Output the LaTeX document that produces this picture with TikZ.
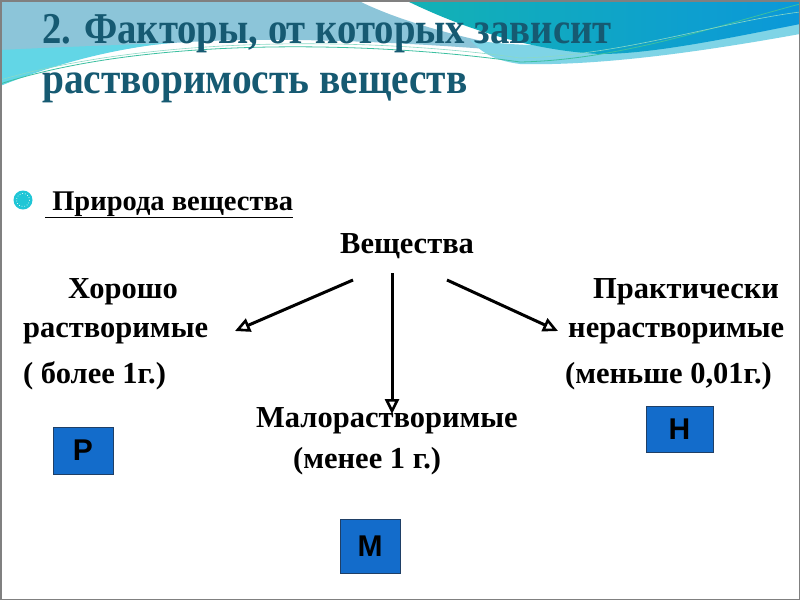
\documentclass[tikz,border=0pt]{standalone}
\usepackage{fontspec}
\setmainfont{Liberation Serif}
\newfontfamily\boxfont{Liberation Sans}
\usetikzlibrary{arrows.meta}
\definecolor{titlecol}{HTML}{165A72}
\definecolor{lightblueA}{HTML}{8CC5D9}
\definecolor{lightcyanA}{HTML}{62D6E6}
\definecolor{tealA}{HTML}{13B2B4}
\definecolor{blueA}{HTML}{0B98D9}
\definecolor{bandcol}{HTML}{7FD4E6}
\definecolor{greenline}{HTML}{3CC0A0}
\definecolor{boxfill}{HTML}{136CCB}
\definecolor{boxedge}{HTML}{1F3F66}
\definecolor{bulletcol}{HTML}{1FC6D6}
\tikzset{
  titletext/.style={anchor=base west, inner sep=0pt, text=titlecol, font=\fontsize{44}{44}\selectfont\bfseries},
  bodytext/.style={anchor=base west, inner sep=0pt, font=\fontsize{30.5}{30.5}\selectfont\bfseries},
  letterbox/.style={draw=boxedge, line width=1pt, fill=boxfill, inner sep=0pt, font=\boxfont\fontsize{30}{30}\selectfont\bfseries},
  conn/.style={line width=3pt, -{Triangle[open,length=15pt,width=14pt,line width=2.6pt]}},
}
\begin{document}
\begin{tikzpicture}[x=1pt,y=-1pt]
\useasboundingbox (0,0) rectangle (800,600);
\fill[white] (0,0) rectangle (800,600);
% left light-blue wave
\fill[lightblueA]
  (0,0) -- (357,0) .. controls (400,22) and (480,45) .. (570,56)
  .. controls (420,42) and (260,34) .. (150,45)
  .. controls (80,55) and (30,72) .. (0,86) -- cycle;
\fill[lightcyanA]
  (0,50) .. controls (40,48) and (90,46) .. (170,43)
  .. controls (100,50) and (40,70) .. (0,86) -- cycle;
% light cyan band
\fill[bandcol] (470,40) .. controls (560,52) and (680,45) .. (800,22) -- (800,34)
  .. controls (700,52) and (600,66) .. (520,64) .. controls (490,60) and (480,50) .. (470,40) -- cycle;
% teal wave
\shade[left color=tealA, right color=blueA]
  (405,0) -- (800,0) -- (800,24) .. controls (720,40) and (650,54) .. (600,54)
  .. controls (520,50) and (450,22) .. (405,0) -- cycle;
% thin green lines
\draw[greenline, line width=0.8pt] (0,84) .. controls (150,35) and (380,42) .. (520,62) .. controls (620,60) and (720,25) .. (800,4);
\draw[greenline!60!white, line width=0.6pt] (0,80) .. controls (160,34) and (380,38) .. (520,58) .. controls (620,56) and (720,22) .. (800,12);
% frame
\draw[gray, line width=1.5pt] (0.75,0.75) rectangle (799.25,599.25);
% title
\node[titletext, xscale=0.88] (t1) at (42,43) {2. Факторы, от которых зависит};
\node[titletext, xscale=0.895] (t2) at (42,93) {растворимость веществ};
% bullet
\fill[bulletcol] (23,200) circle (9.5);
\draw[white, line width=0.7pt, dotted] (23,200) circle (6.5);
\node[bodytext, font=\fontsize{28.5}{28.5}\selectfont\bfseries] (pr) at (45,210) {\underline{ Природа вещества}};
% diagram texts
\node[bodytext] (v) at (340,253) {Вещества};
\node[bodytext] (h1) at (68,298) {Хорошо};
\node[bodytext] (h2) at (23,337) {растворимые};
\node[bodytext] (h3) at (23,383) {( более 1г.)};
\node[bodytext] (p1) at (593,298) {Практически};
\node[bodytext] (p2) at (568,337) {нерастворимые};
\node[bodytext] (p3) at (565,383) {(меньше 0,01г.)};
\node[bodytext] (m1) at (256,427) {Малорастворимые};
\node[bodytext] (m2) at (293,468) {(менее 1 г.)};
% arrows
\coordinate (a1s) at (353,280);
\coordinate (a1e) at (235,331);
\coordinate (a2s) at (392,273);
\coordinate (a2e) at (392,414);
\coordinate (a3s) at (447,280);
\coordinate (a3e) at (558,331);
\draw[conn] (a1s) -- (a1e);
\draw[conn] (a2s) -- (a2e);
\draw[conn] (a3s) -- (a3e);
% letter boxes
\node[letterbox, minimum width=60pt, minimum height=47pt] (bp) at (83,450.5) {Р};
\node[letterbox, minimum width=67pt, minimum height=46pt] (bh) at (679.5,429) {Н};
\node[letterbox, minimum width=60pt, minimum height=54pt] (bm) at (370,546) {М};
\end{tikzpicture}
\end{document}
